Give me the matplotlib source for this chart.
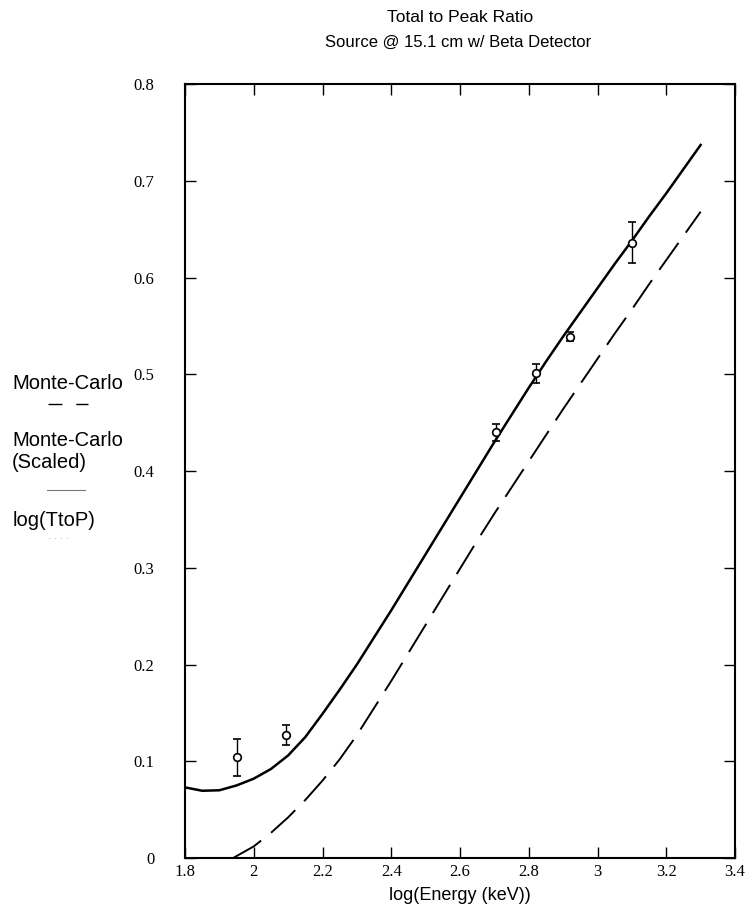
import matplotlib
matplotlib.use("Agg")
import matplotlib.pyplot as plt
import numpy as np

# Data
scaled_x = [1.8, 1.85, 1.9, 1.95, 2.0, 2.05, 2.1, 2.15, 2.2, 2.25, 2.3, 2.35, 2.4, 2.45, 2.5,
            2.55, 2.6, 2.65, 2.7, 2.75, 2.8, 2.85, 2.9, 2.95, 3.0, 3.05, 3.1, 3.15, 3.2, 3.25, 3.3]
scaled_y = [0.073, 0.0695, 0.070, 0.075, 0.082, 0.092, 0.106, 0.125, 0.149, 0.174, 0.200, 0.228,
            0.256, 0.285, 0.314, 0.343, 0.372, 0.401, 0.430, 0.458, 0.486, 0.513, 0.539, 0.564,
            0.589, 0.614, 0.638, 0.663, 0.687, 0.712, 0.737]

mc_x = [1.94, 2.0, 2.05, 2.1, 2.15, 2.2, 2.25, 2.3, 2.35, 2.4, 2.45, 2.5, 2.55, 2.6, 2.65, 2.7,
        2.75, 2.8, 2.85, 2.9, 2.95, 3.0, 3.05, 3.1, 3.15, 3.2, 3.25, 3.3]
mc_y = [0.0, 0.012, 0.026, 0.042, 0.060, 0.080, 0.102, 0.127, 0.155, 0.183, 0.212, 0.241, 0.270,
        0.299, 0.328, 0.356, 0.383, 0.410, 0.437, 0.464, 0.490, 0.516, 0.542, 0.567, 0.593,
        0.618, 0.643, 0.668]

meas_x = [1.95, 2.094, 2.705, 2.82, 2.92, 3.10]
meas_y = [0.104, 0.127, 0.44, 0.501, 0.539, 0.636]
meas_err = [0.019, 0.01, 0.009, 0.01, 0.005, 0.021]

xticks = [1.8, 2.0, 2.2, 2.4, 2.6, 2.8, 3.0, 3.2, 3.4]
xticklabels = ["1.8", "2", "2.2", "2.4", "2.6", "2.8", "3", "3.2", "3.4"]
yticks = [0, 0.1, 0.2, 0.3, 0.4, 0.5, 0.6, 0.7, 0.8]
yticklabels = ["0", "0.1", "0.2", "0.3", "0.4", "0.5", "0.6", "0.7", "0.8"]

sans = ["Liberation Sans", "DejaVu Sans"]
serif = ["Liberation Serif", "DejaVu Serif"]

fig = plt.figure(figsize=(7.53, 9.13), dpi=100)
ax = fig.add_axes([185/753, 55/913, 550/753, 774/913])

ax.plot(mc_x, mc_y, color="black", lw=1.4, dashes=(17, 6.5))
ax.plot(scaled_x, scaled_y, color="black", lw=1.8)
ax.errorbar(meas_x, meas_y, yerr=meas_err, fmt="o", mfc="white", mec="black",
            ecolor="black", ms=5.5, mew=1.2, elinewidth=1.0, capsize=3, capthick=1.0)

ax.set_xlim(1.8, 3.4)
ax.set_ylim(0, 0.8)
ax.set_xticks(xticks)
ax.set_xticklabels(xticklabels, fontfamily=serif, fontsize=12)
ax.set_yticks(yticks)
ax.set_yticklabels(yticklabels, fontfamily=serif, fontsize=12)
ax.tick_params(direction="in", length=8, width=1, top=True, right=True)
ax.tick_params(axis="y", pad=22)
ax.tick_params(axis="x", pad=4)
for s in ax.spines.values():
    s.set_linewidth(1.5)

ax.set_xlabel("log(Energy (keV))", fontfamily=sans, fontsize=13, labelpad=5)
fig.text(460/753, 1 - 18/913, "Total to Peak Ratio", ha="center", va="center",
         fontfamily=sans, fontsize=12.5)
fig.text(458/753, 1 - 42/913, "Source @ 15.1 cm w/ Beta Detector", ha="center", va="center",
         fontfamily=sans, fontsize=12)

# Left-side legend
fig.text(12/753, 1 - 383/913, "Monte-Carlo", ha="left", va="center", fontfamily=sans, fontsize=14.5)
fig.add_artist(plt.Line2D([48/753, 88/753], [1 - 404/913] * 2, color="black", lw=1.0,
                          dashes=(10, 10), transform=fig.transFigure))
fig.text(12/753, 1 - 440/913, "Monte-Carlo", ha="left", va="center", fontfamily=sans, fontsize=14.5)
fig.text(12/753, 1 - 462/913, "(Scaled)", ha="left", va="center", fontfamily=sans, fontsize=14.5)
fig.add_artist(plt.Line2D([47/753, 85/753], [1 - 490/913] * 2, color="#777777", lw=0.8,
                          transform=fig.transFigure))
fig.text(13/753, 1 - 521/913, "log(TtoP)", ha="left", va="center", fontfamily=sans, fontsize=14.5)
fig.text(58/753, 1 - 539/913, "· · · ·", ha="center", va="center", fontfamily=sans, fontsize=7,
         color="#aaaaaa")

fig.savefig("out.png", dpi=100)
